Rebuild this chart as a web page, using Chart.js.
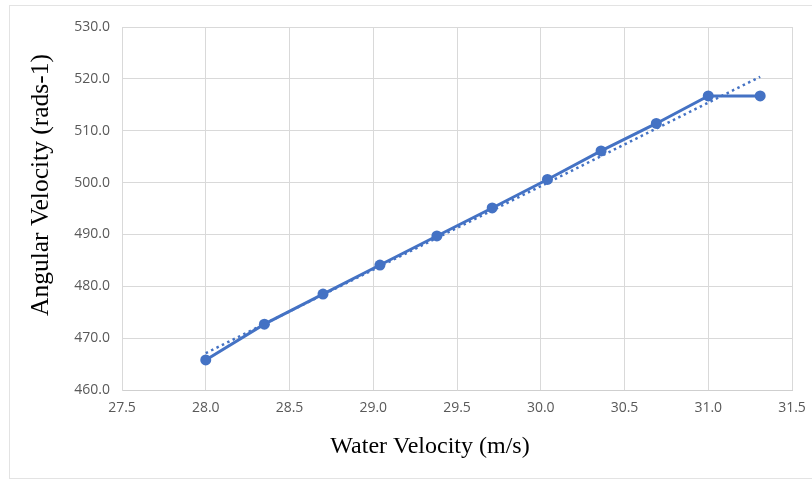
<!DOCTYPE html>
<html>
<head>
<meta charset="utf-8">
<script src="https://cdn.jsdelivr.net/npm/chart.js@4.4.0/dist/chart.umd.min.js"></script>
<style>
  html, body { margin: 0; padding: 0; background: #fff; }
  #wrap { position: relative; width: 812px; height: 479px; overflow: hidden; }
  /* the light frame round the chart area, like the Excel chart border */
  #frame { position: absolute; left: 9px; top: 5px; width: 820px; height: 472px; border: 1px solid #e3e3e3; }
  #chart { position: absolute; left: 0; top: 0; }
</style>
</head>
<body>
<div id="wrap">
  <div id="frame"></div>
  <canvas id="chart" width="812" height="479"></canvas>
</div>
<script>
const waterVelocity = [28.00, 28.35, 28.70, 29.04, 29.38, 29.71, 30.04, 30.36, 30.69, 31.00, 31.31];
const angularVelocity = [465.8, 472.7, 478.5, 484.1, 489.7, 495.1, 500.6, 506.1, 511.4, 516.7, 516.7];

// Dotted linear trendline, its two ends as read
const trendX = [28.00, 31.31];
const trendY = [467.1, 520.4];

// Axis ranges and tick steps
const xRange = [27.5, 31.5];
const yRange = [460, 530];
const xStep = 0.5;
const yStep = 10;

const xTitle = 'Water Velocity (m/s)';
const yTitle = 'Angular Velocity (rads-1)';

const blue = '#4472C4';
const gridColor = '#d9d9d9';
const tickColor = '#595959';

const toPoints = (xs, ys) => xs.map((x, i) => ({ x: x, y: ys[i] }));

// Excel places the axis titles on their own, not centred on the plot,
// so draw them ourselves after the chart.
const axisTitles = {
  id: 'axisTitles',
  afterDraw(chart) {
    const ctx = chart.ctx;
    ctx.save();
    ctx.fillStyle = '#000';
    ctx.textAlign = 'center';
    ctx.textBaseline = 'middle';
    ctx.font = '24px "Liberation Serif"';
    ctx.fillText(xTitle, 430, 447);
    ctx.font = '25.5px "Liberation Serif"';
    ctx.translate(41, 185);
    ctx.rotate(-Math.PI / 2);
    ctx.fillText(yTitle, 0, 0);
    ctx.restore();
  },
};

new Chart(document.getElementById('chart'), {
  type: 'scatter',
  data: {
    datasets: [{
      label: 'Angular Velocity',
      data: toPoints(waterVelocity, angularVelocity),
      showLine: true,
      borderColor: blue,
      backgroundColor: blue,
      borderWidth: 3,
      pointRadius: 5.5,
      pointBorderWidth: 0,
      order: 1,
    }, {
      label: 'Linear trend',
      data: toPoints(trendX, trendY),
      showLine: true,
      borderColor: blue,
      borderWidth: 2.5,
      borderDash: [2.5, 3.5],
      borderCapStyle: 'butt',
      pointRadius: 0,
      order: 2,
    }],
  },
  options: {
    responsive: false,
    animation: false,
    layout: { padding: { left: 27, top: 27, right: 20, bottom: 19 } },
    plugins: {
      legend: { display: false },
      tooltip: { enabled: false },
    },
    scales: {
      x: {
        type: 'linear',
        min: xRange[0],
        max: xRange[1],
        afterFit: (scale) => {
          scale.height = 70;
          // let the last label overhang into the layout padding
          scale.paddingRight = 0;
          scale.paddingLeft = 0;
        },
        grid: { color: gridColor, drawTicks: false },
        border: { color: '#cfcfcf' },
        ticks: {
          stepSize: xStep,
          padding: 10,
          color: tickColor,
          font: { family: 'Open Sans', size: 14 },
          callback: (v) => Number(v).toFixed(1),
        },
      },
      y: {
        type: 'linear',
        min: yRange[0],
        max: yRange[1],
        afterFit: (scale) => { scale.width = 95; },
        grid: { color: gridColor, drawTicks: false },
        border: { color: gridColor },
        ticks: {
          stepSize: yStep,
          padding: 12,
          color: tickColor,
          font: { family: 'Open Sans', size: 14 },
          callback: (v) => Number(v).toFixed(1),
        },
      },
    },
  },
  plugins: [axisTitles],
});
</script>
</body>
</html>
